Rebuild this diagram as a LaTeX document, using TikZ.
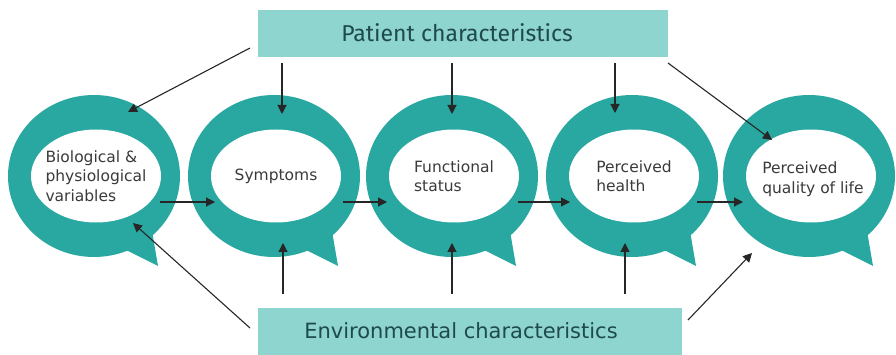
\documentclass[tikz,border=0pt]{standalone}
\usepackage{fontspec}
\setmainfont{DejaVu Sans}
\newfontfamily\firafont{Fira Sans}
\usetikzlibrary{shapes.geometric,arrows.meta,calc}
\definecolor{ring}{HTML}{29A7A1}
\definecolor{boxfill}{HTML}{8ED4CF}
\definecolor{boxtext}{HTML}{1F4A4C}
\definecolor{bubtext}{HTML}{3A3A3A}
\definecolor{arr}{HTML}{262626}
\begin{document}
\begin{tikzpicture}[x=1pt,y=-1pt,
 outerb/.style={ellipse, fill=ring, minimum width=172pt, minimum height=162pt, inner sep=0pt},
 innerb/.style={ellipse, fill=white, minimum width=130pt, minimum height=93pt, inner sep=0pt},
 btxt/.style={align=left, text=bubtext, font=\fontsize{15.5}{19.5}\selectfont, inner sep=0pt},
 cbox/.style={fill=boxfill, inner sep=0pt, minimum height=47pt},
 conn/.style={draw=arr, line width=1.1pt, -{Triangle[length=9pt,width=9pt,fill=arr]}},
 tail/.style={fill=ring}
]
\useasboundingbox (0,0) rectangle (896,355);

% boxes
\node[cbox, minimum width=410pt] (pc) at (463,33.5) {};
\node[text=boxtext, font=\firafont\fontsize{23}{26}\selectfont, inner sep=0pt] (pct) at (457,33) {Patient characteristics};
\node[cbox, minimum width=424pt] (ec) at (470,331.5) {};
\node[text=boxtext, font=\fontsize{21}{24}\selectfont, inner sep=0pt] (ect) at (461,331) {Environmental characteristics};

% bubbles
\foreach \n/\cx in {1/94,2/274,3/452,4/632,5/809}{
  \coordinate (c\n) at (\cx,176);
  \fill[tail] ($(c\n)+(28,72)$) -- ($(c\n)+(64,90)$) -- ($(c\n)+(58,55)$) -- cycle;
  \node[outerb] (b\n) at (c\n) {};
  \node[innerb] (i\n) at ($(c\n)+(2,0)$) {};
}
\node[btxt] (t1) at (i1) {Biological \&\\physiological\\variables};
\node[btxt] (t2) at (i2) {Symptoms};
\node[btxt] (t3) at (i3) {Functional\\status};
\node[btxt] (t4) at (i4) {Perceived\\health};
\node[btxt] (t5) at ($(i5)+(2,3)$) {Perceived\\quality of life};

% arrow end points
\coordinate (pa2) at (282,63);  \coordinate (pe2) at (282,114);
\coordinate (pa3) at (452,63);  \coordinate (pe3) at (452,114);
\coordinate (pa4) at (615,63);  \coordinate (pe4) at (615,113);
\coordinate (ea2) at (283,294); \coordinate (ee2) at (283,243);
\coordinate (ea3) at (452,294); \coordinate (ee3) at (452,243);
\coordinate (ea4) at (625,294); \coordinate (ee4) at (625,243);
\coordinate (h1s) at (160,202); \coordinate (h1e) at (215,202);
\coordinate (h2s) at (343,202); \coordinate (h2e) at (387,202);
\coordinate (h3s) at (518,202); \coordinate (h3e) at (570,202);
\coordinate (h4s) at (697,202); \coordinate (h4e) at (743,202);
\coordinate (d1s) at (250,48);  \coordinate (d1e) at (128,112);
\coordinate (d2s) at (668,63);  \coordinate (d2e) at (772,140);
\coordinate (d3s) at (250,328); \coordinate (d3e) at (133,223);
\coordinate (d4s) at (688,320); \coordinate (d4e) at (752,253);

\foreach \a/\b in {pa2/pe2,pa3/pe3,pa4/pe4,ea2/ee2,ea3/ee3,ea4/ee4,h1s/h1e,h2s/h2e,h3s/h3e,h4s/h4e,d1s/d1e,d2s/d2e,d3s/d3e,d4s/d4e}
  \draw[conn] (\a) -- (\b);
\end{tikzpicture}
\end{document}
